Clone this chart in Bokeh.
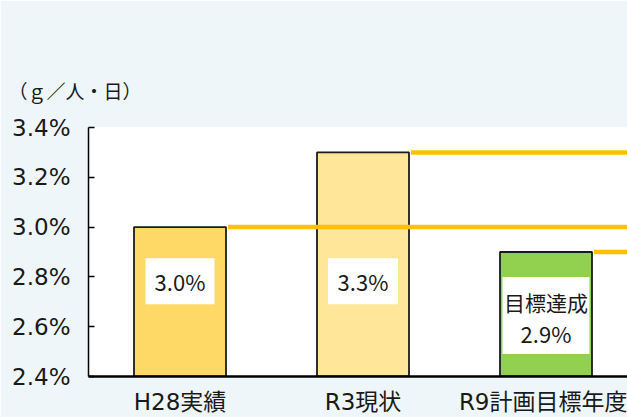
from bokeh.plotting import figure
from bokeh.models import (Range1d, FixedTicker, PrintfTickFormatter, ColumnDataSource, Title)
from bokeh.core.properties import value
from bokeh.embed import file_html
from bokeh.resources import INLINE

# ---- data ----
categories = ["H28実績", "R3現状", "R9計画目標年度"]
values = [3.0, 3.3, 2.9]
statuses = ["", "", "目標達成"]
bar_colors = ["#FFD966", "#FFE699", "#92D050"]
y_ticks = [2.4, 2.6, 2.8, 3.0, 3.2, 3.4]
unit_label = "（ｇ／人・日）"

# ---- layout (pixels) ----
W, H = 627, 417
LEFT, TOP, BOTTOM = 88, 127, 39
PLOT_H = H - TOP - BOTTOM
PLOT_W = W - LEFT
SLOT = 183.0
Y0, Y1 = 2.4, 3.4
BAR_W = 92 / SLOT

def y_at(py):
    return Y0 + (H - BOTTOM - py) / PLOT_H * (Y1 - Y0)

xs = [i + 0.5 for i in range(len(categories))]

p = figure(width=W, height=H, output_backend="svg", toolbar_location=None,
           x_range=Range1d(0, PLOT_W / SLOT), y_range=Range1d(Y0, Y1),
           min_border_left=LEFT, min_border_right=0,
           min_border_top=TOP, min_border_bottom=BOTTOM)
p.border_fill_color = "#EEF6F9"
p.background_fill_color = "white"
p.outline_line_color = None
p.xgrid.visible = False
p.ygrid.visible = False

src = ColumnDataSource(dict(x=xs, top=values, color=bar_colors))

p.vbar(x="x", top="top", bottom=Y0, width=BAR_W, fill_color="color",
       line_color="#1a1a1a", line_width=1.8, source=src)

# target lines extending right from each bar
p.segment(x0=[x + BAR_W / 2 + 2 / SLOT for x in xs], y0=values,
          x1=[3.5] * len(xs), y1=values, line_color="#FFC000", line_width=4.5)

# white label boxes
box_w = [69, 70, 87]
box_h = [46, 46, 77]
box_y = [y_at(282), y_at(282), y_at(316.5)]
p.rect(x=xs, y=box_y, width=box_w, height=box_h, width_units="screen",
       height_units="screen", fill_color="white", line_color=None)

val_y = [y_at(282), y_at(282), y_at(334)]
p.text(x=xs, y=val_y, text=[f"{v:.1f}%" for v in values], text_align="center",
       text_baseline="middle", text_font=value("Noto Sans CJK JP"),
       text_font_size="22px", text_color="#1a1a1a")
st_x = [x for x, s in zip(xs, statuses) if s]
st_t = [s for s in statuses if s]
p.text(x=st_x, y=[y_at(303)] * len(st_x), text=st_t, text_align="center",
       text_baseline="middle", text_font=value("Noto Sans CJK JP"),
       text_font_size="21px", text_color="#1a1a1a")

# axes
p.yaxis.ticker = FixedTicker(ticks=y_ticks)
p.yaxis.formatter = PrintfTickFormatter(format="%.1f%%")
p.yaxis.major_label_text_font = "DejaVu Sans"
p.yaxis.major_label_text_font_size = "23px"
p.yaxis.major_label_text_color = "#1a1a1a"
p.yaxis.major_tick_in = 6
p.yaxis.major_tick_out = 0
p.yaxis.minor_tick_line_color = None
p.yaxis.axis_line_width = 1.5
p.yaxis.axis_line_color = "black"
p.yaxis.major_tick_line_color = "black"
p.yaxis.major_tick_line_width = 1.5
p.yaxis.major_label_standoff = 18

p.xaxis.ticker = FixedTicker(ticks=xs)
p.xaxis.major_label_overrides = {x: c for x, c in zip(xs, categories)}
p.xaxis.major_tick_out = 0
p.xaxis.major_tick_in = 0
p.xaxis.minor_tick_line_color = None
p.xaxis.axis_line_width = 2.5
p.xaxis.axis_line_color = "black"
p.xaxis.major_label_standoff = 12
p.xaxis.major_label_text_font = "'DejaVu Sans', 'Noto Sans CJK JP'"
p.xaxis.major_label_text_font_size = "23px"
p.xaxis.major_label_text_color = "#1a1a1a"

p.add_layout(Title(text=unit_label, align="left", offset=-80, standoff=48,
                   text_font="Noto Sans CJK JP", text_font_size="19px",
                   text_font_style="normal", text_color="#1a1a1a"), "above")

open("out.html", "w").write(file_html(p, INLINE))
